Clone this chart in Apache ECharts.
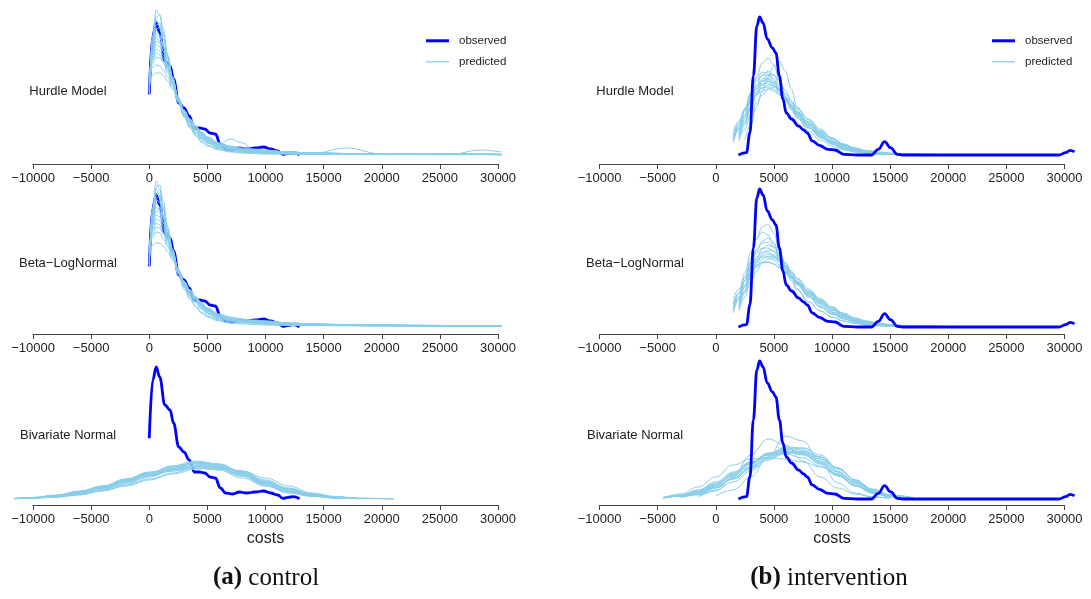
<!DOCTYPE html>
<html><head><meta charset="utf-8">
<script src="https://cdn.jsdelivr.net/npm/echarts@6/dist/echarts.min.js"></script>
<style>html,body{margin:0;padding:0;background:#fff}#c{width:1091px;height:599px}</style>
</head><body><div id="c"></div>
<script>
// ---------- texts ----------
const panelLabels = ['Hurdle Model', 'Beta\u2212LogNormal', 'Bivariate Normal'];
const subCaptions = [['(a)', 'control'], ['(b)', 'intervention']];
const legendNames = ['observed', 'predicted'];
const axisTitle = 'costs';

// ---------- observed densities (scaled density units) ----------
const obsControlX = [0, 300, 600, 895, 1345, 1790, 2090, 2540, 2985, 3435, 3880, 4330, 4780, 5230, 5675, 6125, 6570, 7165, 7760, 8355, 9100, 9845, 10440, 11040, 11490, 11940, 12390, 12930];
const obsControlY = [60.7, 119, 132, 122, 94, 89, 76, 52, 47, 39, 27, 27, 26, 22, 21, 11, 6, 5, 7, 6, 7, 8, 6, 4, 0.7, 1.7, 2.3, 0.3];

const obsInterX = [1950, 2640, 2940, 3235, 3535, 3775, 4070, 4430, 4875, 5175, 5475, 5770, 6070, 6520, 7120, 7565, 7865, 8315, 8910, 9655, 10250, 11000, 12195, 13390, 13985, 14525, 15030, 15625, 16075, 29515, 30110, 30470, 30860];
const obsInterY = [0, 2.3, 22, 79, 129, 138, 132, 116, 107, 102, 79, 56, 42, 36, 29, 25, 22, 14, 9.7, 5.7, 5, 0.7, 0, 0, 5.7, 13.3, 7.3, 0.7, 0, 0, 2.3, 4.7, 3.3];

// ---------- predicted densities: control, Hurdle ----------
const predCtrlX = [0, 300, 600, 900, 1200, 1600, 2000, 2500, 3000, 3500, 4000, 4500, 5000, 6000, 7000, 8000, 9000, 10000, 12000, 14000, 17000, 20000, 23000, 26000, 28500, 30300];
const predCtrlHurdle = [
 [62,118,145,140,122,98,76,54,38,27,19,13,9,5,3,2,1.5,1,0.8,0.6,0.5,0.4,0.4,0.3,0.5,0.3],
 [65,115,138,140,126,100,78,55,39,28,20,14,10,6,4,2.5,2,1.5,1,0.8,0.6,0.5,0.5,0.4,0.4,0.3],
 [60,120,136,128,110,90,72,52,38,29,22,16,12,7,5,3,2,2,1.5,1,0.8,0.6,0.5,0.5,0.5,0.3],
 [68,112,130,132,120,98,78,56,40,30,22,17,13,8,6,4,3,2.5,1.5,1,1,0.8,0.6,0.5,0.5,0.4],
 [64,108,126,128,116,96,76,55,41,32,25,19,14,9,6,5,4,3,2,1.5,1,0.8,0.6,0.5,0.5,0.4],
 [70,110,125,120,108,90,72,54,42,33,26,20,15,10,16,12,5,3,2,1.5,1,0.8,0.7,0.6,0.5,0.4],
 [66,104,121,118,108,92,75,57,44,35,28,22,17,11,7,5,4,3,2,1.5,7,1,0.8,0.6,0.5,0.4],
 [72,106,118,114,104,88,72,54,40,30,22,16,12,7,5,3.5,3,2.5,2,1.5,1,1,0.8,0.6,0.6,0.5],
 [62,100,114,112,104,90,76,58,44,34,26,20,15,10,7,5,4,4,3,2,1.5,1,1,1,1,0.6],
 [74,102,110,108,100,86,72,55,42,32,24,18,14,9,6,5,4,3,2,1.5,1,1,1,0.8,5,3],
 [68,96,106,104,97,86,73,57,44,35,28,22,17,11,8,6,5,4,3,2,1.5,1,1,0.8,0.8,0.5],
 [75,96,102,100,94,84,72,57,45,36,29,22,17,10,7,5,4,3,2.5,2,1.5,1,1,1,1,0.5],
 [70,92,98,97,92,82,70,56,44,35,28,22,18,12,8,6,5,4,3,2,1.5,1.5,1,1,1,0.6],
 [76,88,90,89,85,78,68,55,44,35,27,21,16,10,7,5,4,3,2.5,2,1.5,1,1,1,1,0.5],
 [72,80,82,82,80,74,66,54,44,36,29,23,18,12,9,7,6,5,3,2,1.5,1,1,1,1,0.5]
];
// ---------- predicted: control, Beta-LogNormal ----------
const predCtrlBeta = [
 [60,120,146,138,118,94,72,52,38,28,20,14,10,6,4,3,2.5,2,1.5,1.5,1.2,1,1,0.8,0.8,0.6],
 [64,116,140,142,126,100,78,56,40,29,21,15,11,7,5,4,4,3,2,1.5,1.5,1.2,1,1,1,0.7],
 [62,118,138,130,112,92,74,54,40,31,24,18,13,8,6,5,5,4,2.5,2,1.5,1.2,1.2,1,1,0.8],
 [67,112,132,134,120,98,77,56,42,33,26,20,15,9,6,5,4,3,2,2,2,1.5,1.5,1.2,1,0.8],
 [63,110,129,131,118,96,76,56,43,34,27,21,16,10,7,6,6,5,3,2,1.5,1.2,1,1,1,0.8],
 [70,112,128,124,110,90,72,54,42,34,28,22,17,11,8,7,6,5,3,2,2,2,1.5,1.2,1,0.8],
 [66,106,124,120,108,92,75,57,44,36,30,24,18,12,8,6,5,4,3,2.5,2,1.5,1.5,1.5,1.2,1],
 [72,108,120,116,104,88,72,54,41,32,25,19,14,9,7,5,4,3,3,2.5,2,2,1.5,1.5,1.2,1],
 [62,102,116,114,105,90,76,58,45,36,29,22,17,11,8,6,6,6,4,3,2,1.5,1.2,1,1,0.8],
 [74,104,112,110,101,87,72,55,43,34,27,21,16,10,7,6,5,4,3,3,2.5,2,2,1.5,1.5,1],
 [68,98,108,106,98,86,73,57,45,37,30,24,18,12,9,7,6,5,4,3,2,1.5,1.5,1.5,1.2,1],
 [75,97,104,102,95,84,72,57,46,37,30,23,17,11,8,7,7,6,4,3,2,2,1.5,1.2,1,0.8],
 [70,93,100,99,93,82,70,56,45,36,29,23,18,12,9,7,6,5,3.5,2.5,2,1.5,1.5,1.5,1.5,1],
 [76,90,95,94,88,80,69,56,45,36,28,22,17,11,8,6,5,4,3,2.5,2,2,1.5,1.5,1.2,1],
 [72,82,84,84,81,75,67,55,45,37,30,24,19,13,10,8,6,5,3.5,3,2.5,2,1.5,1.5,1.5,1]
];
// ---------- predicted: control, Bivariate Normal ----------
const predCtrlBivX = [-11600, -10000, -8000, -6000, -4000, -2000, 0, 2000, 4000, 6000, 8000, 10000, 12000, 14000, 16000, 18000, 21000];
const predCtrlBiv = [
 [0.5,1.5,3.5,7,12,19,26,32,35,31,23,14,7,3,1,0.3,null],
 [0.3,1,3,6,10,16,23,30,36,34,26,16,8,3.5,1.2,0.4,null],
 [null,0.5,2,5,9,15,22,29,34,33,27,18,10,5,2,0.6,0.2],
 [0.4,1.2,3,7,13,20,27,31,33,29,21,13,7,3,1,null,null],
 [0.3,1,2.5,5.5,10,17,25,32,37,34,25,15,7,3,1,0.3,null],
 [null,0.8,2.5,6,11,18,26,33,38,35,26,15,7,3,1,null,null],
 [0.3,1,3,6.5,12,19,25,29,31,29,23,16,10,5,2,0.6,0.2],
 [0.5,1.4,3.5,7.5,13,20,26,30,33,31,24,15,8,3,1,0.3,null],
 [null,0.6,2,4.5,8.5,14,20,26,32,33,28,19,11,5,2,0.5,null],
 [0.3,1,2.8,6,11,17,23,28,33,32,26,17,10,5,2,0.6,0.2],
 [0.4,1.2,3.2,7,12,18,24,30,36,35,27,17,9,4,1.2,null,null],
 [null,0.5,1.8,4,8,13,19,25,30,31,28,21,13,6,2.5,0.8,0.2],
 [0.3,1,3,6,11,18,26,33,36,32,23,13,6,2.5,0.8,null,null],
 [0.5,1.5,4,8,13,19,24,28,31,30,25,17,10,4.5,1.5,0.4,null]
];
// ---------- predicted: intervention, Hurdle ----------
const predInterX = [1500, 2000, 2500, 3000, 3500, 4000, 4500, 5000, 5500, 6000, 6500, 7000, 8000, 9000, 10000, 11000, 12000, 13000, 14000, 15000, 16500, 18000, 20000, 22000];
const predInterHurdle = [
 [null,22,40,60,78,92,97,90,74,58,46,37,24,15,9,5,3,1.5,1,0.8,0.5,null,null,null],
 [null,null,15,30,48,64,78,89,93,84,66,48,28,17,11,6,3,2,1,0.5,0.3,null,null,null],
 [12,26,44,62,76,83,82,76,66,56,47,39,27,18,11,6,3.5,2,1,0.6,0.4,0.3,null,null],
 [null,20,36,54,70,80,84,80,70,58,48,40,28,19,13,8,5,3,1.5,1,0.5,0.3,0.2,null],
 [14,28,46,62,74,80,80,74,64,54,45,38,27,19,12,7,4,2,1,0.7,0.4,null,null,null],
 [null,18,32,48,62,74,80,80,74,64,54,44,30,19,12,7,4,2.5,1.5,1,0.6,0.4,0.2,null],
 [16,30,46,60,70,76,77,72,64,56,48,41,31,22,14,8,5,3,2,1.2,0.8,0.5,0.3,0.2],
 [null,22,38,54,66,74,76,72,66,58,50,42,30,21,14,9,5,3,2,1.5,1,0.6,0.3,null],
 [20,32,46,58,68,74,74,70,63,56,48,42,33,24,16,10,6,3.5,2,1,0.6,0.4,null,null],
 [null,16,30,46,60,70,74,72,66,58,50,43,32,23,16,10,6,4,2.5,1.5,1,0.6,0.4,0.2],
 [18,30,44,56,66,71,72,69,63,56,49,42,30,20,13,8,5,3,2,1,0.6,null,null,null],
 [null,20,34,48,60,67,70,69,65,58,52,46,36,26,17,11,7,4,2.5,1.5,1,0.6,0.3,null],
 [24,34,46,56,63,67,68,66,61,55,48,41,30,21,14,9,6,4,2.5,1.5,1,0.6,0.3,null],
 [null,14,26,40,52,60,66,68,66,61,54,47,35,24,16,10,6,3.5,2,1.2,0.7,0.4,null,null],
 [15,26,40,52,60,64,66,64,60,55,49,43,33,24,17,11,7,4.5,3,2,1.2,0.7,0.4,0.2]
];
// ---------- predicted: intervention, Beta-LogNormal ----------
const predInterBeta = [
 [null,26,46,68,88,100,103,94,76,60,48,38,25,16,10,6,3.5,2,1.2,0.8,0.6,0.5,0.3,null],
 [18,34,54,74,88,95,92,82,68,56,46,37,25,16,10,6,3.5,2,1.2,0.8,0.5,0.3,null,null],
 [null,22,40,60,76,86,89,84,73,62,52,43,30,20,13,8,5,3,2,1.2,0.8,0.5,0.3,null],
 [14,28,46,64,77,84,85,80,70,60,50,42,30,20,13,8,5,3,1.8,1,0.7,0.4,null,null],
 [null,20,36,54,68,78,82,80,73,64,54,45,31,21,14,9,5,3,2,1.2,0.8,0.6,0.4,0.3],
 [22,34,50,64,74,79,79,75,67,58,50,43,32,23,15,10,6,3.5,2,1.2,0.8,0.5,0.3,null],
 [null,18,34,50,64,73,77,76,71,64,56,48,35,25,17,11,7,4,2.5,1.5,1,0.6,0.4,null],
 [16,30,46,60,70,75,75,72,66,58,50,43,33,24,17,12,8,5,3,2,1.2,0.8,0.5,0.3],
 [null,24,40,54,65,71,73,71,66,60,53,46,35,26,18,12,8,5,3,2,1.2,0.8,0.5,null],
 [28,38,50,60,67,70,70,67,62,56,50,44,34,25,17,11,7,4,2.5,1.5,1,0.6,0.4,null],
 [null,16,30,45,56,64,68,69,66,61,55,49,38,28,20,13,8,5,3,2,1.2,0.8,0.5,0.3],
 [20,30,42,53,60,64,65,63,60,55,50,45,36,27,19,13,8.5,5,3,2,1.2,0.8,0.5,0.3],
 [null,22,36,50,61,68,71,70,65,58,51,44,33,23,15,10,6,3.5,2,1.2,0.8,0.5,null,null],
 [24,34,46,56,62,65,65,63,59,54,49,44,36,28,20,14,9,6,4,2.5,1.5,1,0.6,0.3]
];
// ---------- predicted: intervention, Bivariate Normal ----------
const predInterBivX = [-4500, -3000, -1500, 0, 1500, 3000, 4500, 6000, 7500, 9000, 10500, 12000, 13500, 15000, 17000];
const predInterBiv = [
 [null,null,null,3,9,22,42,63,58,36,16,6,2,0.8,null],
 [null,null,2,8,22,44,60,54,38,22,11,5,2,0.8,null],
 [1.5,4,9,16,26,37,45,48,45,36,24,13,6,2.5,1],
 [null,2,6,13,23,35,45,51,49,40,27,15,7,3,1],
 [1,3,7,14,24,36,46,50,47,37,25,14,6,2,0.6],
 [null,1.5,5,11,21,33,44,52,51,42,28,16,7,3,1],
 [1,3,8,15,25,36,44,47,45,38,27,17,8,3,1],
 [null,2,6,12,21,32,42,49,51,44,31,18,8,3,0.8],
 [1.5,5,12,22,34,40,41,40,37,32,25,17,9,4,1],
 [null,2.5,7,14,24,35,45,48,44,35,24,13,6,2.5,0.8],
 [1,3,6.5,12,20,30,40,46,46,40,30,19,10,4,1.2],
 [null,1.5,4,9,17,28,39,46,47,42,31,19,9,4,1.2],
 [1,3.5,9,17,27,37,44,45,41,33,23,13,6,2.5,0.8],
 [null,2,5,11,20,31,41,47,48,42,31,19,9,3.5,1.2]
];

// ---------- build chart ----------
const SANS = 'Liberation Sans, Arial, Helvetica, sans-serif';
const OBS_COLOR = '#0000FF', PRED_COLOR = '#87CEEB';
const AX_MIN = -10000, AX_MAX = 30000, AX_STEP = 5000;   // drawn axis
const PLOT_MIN = -11600, PLOT_MAX = 31600;                // plotting region (4% padding)
function pairs(xs, ys) {
  const out = [];
  for (let i = 0; i < xs.length && i < ys.length; i++) if (ys[i] !== null && ys[i] !== undefined) out.push([xs[i], ys[i]]);
  return out;
}
const rows = [ {top: 0, height: 164, min: -9}, {top: 170, height: 164, min: -7}, {top: 342, height: 163, min: -6} ];
const cols = [ {left: 33, width: 465}, {left: 599.5, width: 465} ];
const panels = [
  {col: 0, row: 0, obsX: obsControlX, obsY: obsControlY, px: predCtrlX, pred: predCtrlHurdle, obsOnTop: false},
  {col: 0, row: 1, obsX: obsControlX, obsY: obsControlY, px: predCtrlX, pred: predCtrlBeta, obsOnTop: false},
  {col: 0, row: 2, obsX: obsControlX, obsY: obsControlY, px: predCtrlBivX, pred: predCtrlBiv, obsOnTop: false},
  {col: 1, row: 0, obsX: obsInterX, obsY: obsInterY, px: predInterX, pred: predInterHurdle, obsOnTop: true},
  {col: 1, row: 1, obsX: obsInterX, obsY: obsInterY, px: predInterX, pred: predInterBeta, obsOnTop: true},
  {col: 1, row: 2, obsX: obsInterX, obsY: obsInterY, px: predInterBivX, pred: predInterBiv, obsOnTop: true}
];
const grid = [], xAxis = [], yAxis = [], series = [], graphic = [];
panels.forEach((p, i) => {
  const r = rows[p.row], c = cols[p.col];
  const pxPerUnit = c.width / (AX_MAX - AX_MIN);
  const dataIdx = 2 * i, axIdx = 2 * i + 1;
  // data grid (wider plotting region)
  grid.push({left: c.left - (AX_MIN - PLOT_MIN) * pxPerUnit, width: (PLOT_MAX - PLOT_MIN) * pxPerUnit,
    top: r.top, height: r.height, outerBoundsMode: 'none', containLabel: false});
  xAxis.push({gridIndex: dataIdx, type: 'value', min: PLOT_MIN, max: PLOT_MAX, show: false});
  yAxis.push({gridIndex: dataIdx, type: 'value', min: r.min, max: r.height + r.min, show: false});
  // axis grid (R-style axis from -10000 to 30000)
  grid.push({left: c.left, width: c.width, top: r.top, height: r.height, outerBoundsMode: 'none', containLabel: false});
  xAxis.push({
    gridIndex: axIdx, type: 'value', min: AX_MIN, max: AX_MAX, interval: AX_STEP,
    axisLine: {onZero: false, lineStyle: {color: '#444', width: 1}},
    axisTick: {length: 5, lineStyle: {color: '#444'}},
    axisLabel: {margin: 8, fontSize: 13, color: '#222', fontFamily: SANS,
      formatter: v => String(v).replace('-', '\u2212')},
    splitLine: {show: false},
    name: p.row === 2 ? axisTitle : '', nameLocation: 'middle', nameGap: 26,
    nameTextStyle: {fontSize: 16, color: '#222', fontFamily: SANS}
  });
  yAxis.push({gridIndex: axIdx, type: 'value', min: 0, max: 1, show: false});

  const obs = {
    name: legendNames[0], type: 'line', xAxisIndex: dataIdx, yAxisIndex: dataIdx, data: pairs(p.obsX, p.obsY),
    smooth: 0.4, smoothMonotone: 'x', symbol: 'none', silent: true,
    lineStyle: {color: OBS_COLOR, width: 2.8}, itemStyle: {color: OBS_COLOR}, z: p.obsOnTop ? 3 : 1
  };
  if (!p.obsOnTop) series.push(obs);
  p.pred.forEach(ys => series.push({
    name: legendNames[1], type: 'line', xAxisIndex: dataIdx, yAxisIndex: dataIdx, data: pairs(p.px, ys),
    smooth: 0.4, smoothMonotone: 'x', symbol: 'none', silent: true,
    lineStyle: {color: PRED_COLOR, width: 1}, itemStyle: {color: PRED_COLOR}, z: 2
  }));
  if (p.obsOnTop) series.push(obs);
  graphic.push({type: 'text', x: p.col === 0 ? 68 : 635, y: [91, 263, 435][p.row],
    style: {text: panelLabels[p.row], fill: '#222', font: '13px ' + SANS, textAlign: 'center', textVerticalAlign: 'middle'}});
});
subCaptions.forEach((s, k) => {
  graphic.push({type: 'text', x: k === 0 ? 266 : 829, y: 578,
    style: {text: '{b|' + s[0] + '} ' + s[1], fill: '#111', font: '25px "Liberation Serif", serif',
      textAlign: 'center', textVerticalAlign: 'middle',
      rich: {b: {fontWeight: 'bold', fontSize: 25, fontFamily: 'Liberation Serif', fill: '#111'}}}});
});
const legendData = [
  {name: legendNames[0], icon: 'path://M0 0H23V3H0Z'},
  {name: legendNames[1], icon: 'path://M0 0H23V1.3H0Z'}
];
const legendCommon = {orient: 'vertical', padding: 0, itemWidth: 23, itemHeight: 14, itemGap: 9, selectedMode: false,
  data: legendData, textStyle: {fontSize: 11.5, color: '#222', fontFamily: SANS, padding: [0, 0, 0, 5]}};
const option = {
  animation: false, backgroundColor: '#fff',
  grid, xAxis, yAxis, series, graphic,
  legend: [Object.assign({left: 426, top: 34.8}, legendCommon), Object.assign({left: 992, top: 34.8}, legendCommon)]
};
const chart = echarts.init(document.getElementById('c'), null, {renderer: 'canvas'});
chart.setOption(option);
</script></body></html>
